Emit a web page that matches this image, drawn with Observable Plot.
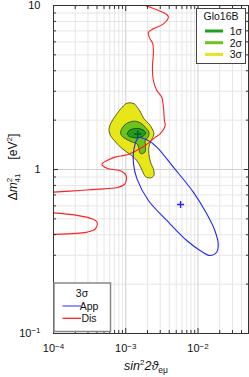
<!DOCTYPE html>
<html><head><meta charset="utf-8">
<script src="https://cdn.jsdelivr.net/npm/d3@7"></script>
<script src="https://cdn.jsdelivr.net/npm/@observablehq/plot@0.6"></script>
<style>body{margin:0;background:#fff}#chart svg{display:block}</style>
</head><body><div id="chart"></div>
<script>
// ---- tick values and labels ----
const xMajor = [1e-4, 1e-3, 1e-2];
const xMajorLabels = ["10^-4", "10^-3", "10^-2"];
const xMinor = [2e-4,3e-4,4e-4,5e-4,6e-4,7e-4,8e-4,9e-4,2e-3,3e-3,4e-3,5e-3,6e-3,7e-3,8e-3,9e-3,2e-2,3e-2,4e-2];
const yMajor = [0.1, 1, 10];
const yMajorLabels = ["10^-1", "1", "10"];
const yMinor = [0.2,0.3,0.4,0.5,0.6,0.7,0.8,0.9,2,3,4,5,6,7,8,9];

// ---- Glo16B contours [sin^2 2theta, dm2] ----
const glo3sigma = [[1.05e-3,2.54],[1.30e-3,2.52],[1.44e-3,2.40],[1.60e-3,2.24],[1.78e-3,2.04],[2.09e-3,1.90],[2.32e-3,1.77],[2.45e-3,1.65],[2.32e-3,1.54],[2.20e-3,1.47],[2.09e-3,1.37],[2.09e-3,1.25],[2.20e-3,1.11],[2.45e-3,0.986],[2.45e-3,0.919],[2.20e-3,0.889],[1.87e-3,0.906],[1.69e-3,0.986],[1.52e-3,1.083],[1.36e-3,1.16],[1.11e-3,1.25],[8.95e-4,1.34],[7.23e-4,1.47],[6.17e-4,1.61],[5.86e-4,1.73],[6.17e-4,1.90],[7.23e-4,2.13],[8.95e-4,2.40]];
const glo2sigma = [[8.47e-4,1.69],[9.44e-4,1.85],[1.11e-3,1.94],[1.36e-3,1.97],[1.60e-3,1.92],[1.87e-3,1.81],[2.09e-3,1.69],[2.04e-3,1.57],[1.87e-3,1.52],[1.87e-3,1.40],[1.84e-3,1.275],[1.60e-3,1.25],[1.52e-3,1.34],[1.44e-3,1.43],[1.23e-3,1.47],[9.93e-4,1.54],[8.75e-4,1.61]];
const glo1sigma = [[1.05e-3,1.646],[1.12e-3,1.73],[1.27e-3,1.77],[1.49e-3,1.78],[1.74e-3,1.74],[1.89e-3,1.67],[1.74e-3,1.60],[1.49e-3,1.56],[1.23e-3,1.57],[1.10e-3,1.60]];
const gloBest = [[1.466e-3, 1.646]];

// ---- App (3 sigma) ----
const appContour = [[1.50e-3,1.56],[1.29e-3,1.31],[1.28e-3,1.083],[1.43e-3,0.877],[2.06e-3,0.647],[3.70e-3,0.489],[6.98e-3,0.369],[1.067e-2,0.321],[1.466e-2,0.299],[1.81e-2,0.313],[1.905e-2,0.352],[1.71e-2,0.425],[1.32e-2,0.537],[8.61e-3,0.728],[4.56e-3,1.033],[2.69e-3,1.37],[2.06e-3,1.50]];
const appBest = [[5.74e-3, 0.612]];

// ---- Dis (3 sigma) ----
const disUpper = [[1.55e-3,10.3],[2.69e-3,9.41],[3.70e-3,8.81],[3.89e-3,8.49],[3.32e-3,7.73],[2.41e-3,7.21],[2.06e-3,6.87],[2.11e-3,6.41],[2.37e-3,5.84],[2.41e-3,5.08],[2.34e-3,4.21],[2.41e-3,3.49],[2.69e-3,3.03],[3.15e-3,2.76],[3.32e-3,2.40],[3.43e-3,1.99],[3.51e-3,1.85],[2.99e-3,1.65],[2.55e-3,1.57],[1.86e-3,1.40],[1.43e-3,1.31],[1.04e-3,1.23],[7.16e-4,1.19],[5.51e-4,1.135],[4.70e-4,1.083],[4.79e-4,1.057],[5.74e-4,1.01],[8.75e-4,0.977],[1.01e-3,0.919],[9.75e-4,0.818],[7.89e-4,0.780],[4.90e-4,0.762],[2.33e-4,0.745],[1.0e-4,0.728],[8e-5,0.725]];
const disLower = [[8e-5,0.546],[1e-4,0.544],[2.12e-4,0.525],[3.42e-4,0.500],[4.01e-4,0.477],[3.79e-4,0.435],[2.92e-4,0.415],[1.55e-4,0.405],[1e-4,0.402],[8e-5,0.402]];

// ---- legends ----
const gloLegend = [{label:"1σ", color:"#1ea01e"},{label:"2σ", color:"#6cc41a"},{label:"3σ", color:"#e6e619"}];
const setLegend = [{label:"App", color:"#5a5aff"},{label:"Dis", color:"#ff2020"}];

const X = d => d[0], Y = d => d[1];
const lbl = (arr, labels) => d => labels[arr.indexOf(d)];

const plot = Plot.plot({
  width: 249, height: 377,
  marginLeft: 53, marginRight: 1, marginTop: 5, marginBottom: 44,
  x: {type: "log", domain: [1e-4, 5e-2]},
  y: {type: "log", domain: [0.1, 10]},
  style: {fontFamily: "'Liberation Sans', Arial, sans-serif", fontSize: "11px", background: "#fff"},
  marks: [
    Plot.gridX(xMinor, {stroke: "#e6e6e6", strokeOpacity: 1}),
    Plot.gridY(yMinor, {stroke: "#e6e6e6", strokeOpacity: 1}),
    Plot.gridX(xMajor, {stroke: "#cfcfcf", strokeOpacity: 1}),
    Plot.gridY(yMajor, {stroke: "#cfcfcf", strokeOpacity: 1}),
    Plot.line(glo3sigma, {x: X, y: Y, curve: "catmull-rom-closed", fill: "#e6e619", stroke: "#3b3b10", strokeWidth: 0.8}),
    Plot.line(glo2sigma, {x: X, y: Y, curve: "catmull-rom-closed", fill: "#6cc41a", stroke: "#2b3b10", strokeWidth: 0.8}),
    Plot.line(glo1sigma, {x: X, y: Y, curve: "catmull-rom-closed", fill: "#1ea01e", stroke: "#153515", strokeWidth: 0.8}),
    Plot.dot(gloBest, {x: X, y: Y, symbol: "plus", r: 2.4, stroke: "#0c5a0c", strokeWidth: 1.4}),
    Plot.line(disUpper, {x: X, y: Y, curve: "catmull-rom", stroke: "#ff2020", strokeWidth: 1.1, clip: true}),
    Plot.line(disLower, {x: X, y: Y, curve: "catmull-rom", stroke: "#ff2020", strokeWidth: 1.1, clip: true}),
    Plot.line(appContour, {x: X, y: Y, curve: "catmull-rom-closed", stroke: "#2424ff", strokeWidth: 1.1}),
    Plot.dot(appBest, {x: X, y: Y, symbol: "plus", r: 2.4, stroke: "#2424ff", strokeWidth: 1.4}),
    Plot.frame({stroke: "#333", strokeWidth: 1}),
    // inward ticks
    Plot.axisX(xMajor, {anchor: "bottom", tickSize: -5, tickFormat: () => "", label: null, stroke: "#333"}),
    Plot.axisX(xMinor, {anchor: "bottom", tickSize: -3, tickFormat: () => "", label: null, stroke: "#333"}),
    Plot.axisX(xMajor, {anchor: "top", tickSize: -5, tickFormat: () => "", label: null, stroke: "#333"}),
    Plot.axisX(xMinor, {anchor: "top", tickSize: -3, tickFormat: () => "", label: null, stroke: "#333"}),
    Plot.axisY(yMajor, {anchor: "left", tickSize: -5, tickFormat: () => "", label: null, stroke: "#333"}),
    Plot.axisY(yMinor, {anchor: "left", tickSize: -3, tickFormat: () => "", label: null, stroke: "#333"}),
    Plot.axisY(yMajor, {anchor: "right", tickSize: -5, tickFormat: () => "", label: null, stroke: "#333"}),
    Plot.axisY(yMinor, {anchor: "right", tickSize: -3, tickFormat: () => "", label: null, stroke: "#333"}),
    // labels
    Plot.axisX(xMajor, {anchor: "bottom", tickSize: 0, tickPadding: 11, tickFormat: lbl(xMajor, xMajorLabels), label: null, fontSize: 11, fill: "#111"}),
    Plot.axisY(yMajor, {anchor: "left", tickSize: 0, tickPadding: 13, tickFormat: lbl(yMajor, yMajorLabels), label: null, fontSize: 11, fill: "#111"})
  ]
});

const ns = "http://www.w3.org/2000/svg";
const svg = plot;
// superscripts in tick labels
svg.querySelectorAll("text").forEach(t => {
  const m = t.textContent.match(/^(\d+)\^(-?\d+)$/);
  if (!m) return;
  t.textContent = "";
  const a = document.createElementNS(ns, "tspan"); a.textContent = m[1];
  const b = document.createElementNS(ns, "tspan"); b.textContent = m[2].replace("-", "\u2212");
  b.setAttribute("dy", "-0.45em"); b.setAttribute("font-size", "8px");
  t.append(a, b);
});

const s = d3.select(svg);
const font = "'Liberation Sans', Arial, sans-serif";
// axis labels
const xl = s.append("text").attr("x", 146).attr("y", 370).attr("text-anchor", "middle")
  .attr("font-family", font).attr("font-size", 12.5).attr("fill", "#111");
xl.append("tspan").attr("font-style", "italic").text("sin");
xl.append("tspan").attr("font-size", 8).attr("dy", -5).text("2");
xl.append("tspan").attr("font-style", "italic").attr("dy", 5).text("2ϑ");
xl.append("tspan").attr("font-size", 8.5).attr("dy", 3).text("eμ");

const yl = s.append("text").attr("transform", "translate(17,167) rotate(-90)").attr("text-anchor", "middle")
  .attr("font-family", font).attr("font-size", 12).attr("fill", "#111");
yl.append("tspan").text("Δ");
yl.append("tspan").attr("font-style", "italic").text("m");
yl.append("tspan").attr("font-size", 8).attr("dy", -5).text("2");
yl.append("tspan").attr("font-size", 8).attr("dx", -4.5).attr("dy", 8).text("41");
yl.append("tspan").attr("dx", 14).attr("dy", -3).text("[eV");
yl.append("tspan").attr("font-size", 8).attr("dy", -5).text("2");
yl.append("tspan").attr("dy", 5).text("]");

// Glo16B legend
const g1 = s.append("g").attr("font-family", font).attr("font-size", 10.5).attr("fill", "#111");
g1.append("rect").attr("x", 196.5).attr("y", 8.5).attr("width", 49).attr("height", 55).attr("fill", "#fff").attr("stroke", "#444").attr("stroke-width", 1);
g1.append("text").attr("x", 221).attr("y", 19.5).attr("text-anchor", "middle").text("Glo16B");
gloLegend.forEach((d, i) => {
  const y = 31 + i * 11.7;
  g1.append("line").attr("x1", 205).attr("x2", 223).attr("y1", y).attr("y2", y).attr("stroke", d.color).attr("stroke-width", 3);
  g1.append("text").attr("x", 242).attr("y", y + 3.8).attr("text-anchor", "end").text(d.label);
});

// App/Dis legend
const g2 = s.append("g").attr("font-family", font).attr("font-size", 10.5).attr("fill", "#111");
g2.append("rect").attr("x", 54).attr("y", 283).attr("width", 56.5).attr("height", 48.5).attr("fill", "#fff").attr("stroke", "#888").attr("stroke-width", 1.5);
g2.append("text").attr("x", 82).attr("y", 296.5).attr("text-anchor", "middle").text("3σ");
setLegend.forEach((d, i) => {
  const y = 306 + i * 12.3;
  g2.append("line").attr("x1", 62.5).attr("x2", 81).attr("y1", y).attr("y2", y).attr("stroke", d.color).attr("stroke-width", 1.3);
  g2.append("text").attr("x", 89).attr("y", y + 3.8).text(d.label);
});

document.getElementById("chart").append(svg);
</script>
</body></html>
